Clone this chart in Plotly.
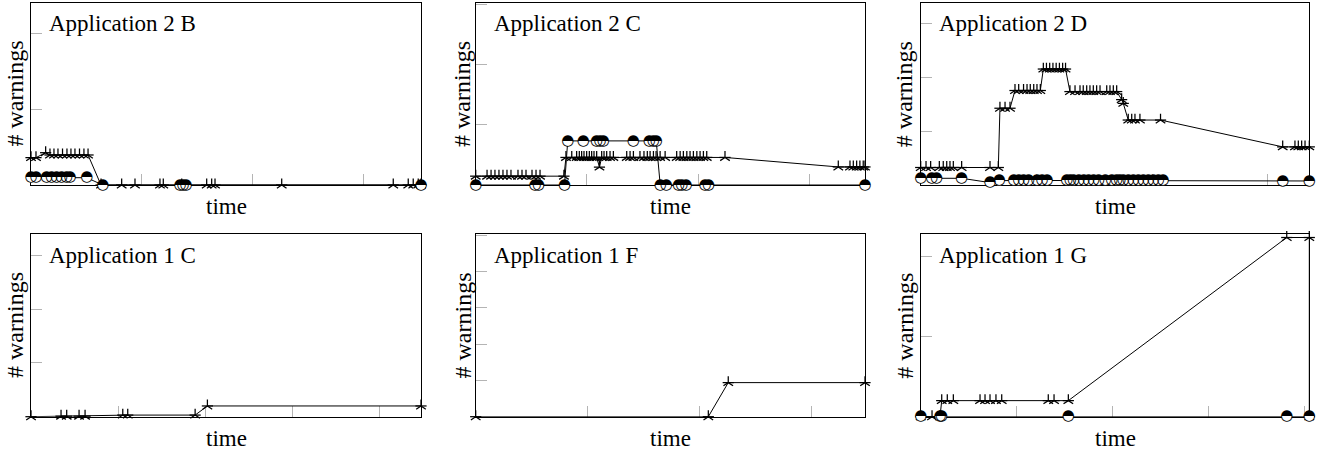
import plotly.graph_objects as go

W, H = 1328, 455

# ---------------- data ----------------
# Application 2 B
b_star_x = [0, 0.45, 1.32, 1.71, 2.07, 2.43, 2.84, 3.24, 3.60, 3.96, 4.37, 4.77, 5.14, 6.31, 8.17, 9.37,
            11.62, 11.92, 13.58, 15.83, 16.28, 16.58, 22.59, 32.64, 33.99, 34.44, 34.89, 35.14]
b_star_y = [3.6, 3.6, 4.25, 3.95, 3.95, 3.95, 3.95, 3.95, 3.95, 3.95, 3.95, 3.95, 3.95, 0, 0, 0,
            0, 0, 0, 0, 0, 0, 0, 0, 0, 0, 0, 0]
b_circ_x = [0, 0.45, 1.41, 1.86, 2.31, 2.76, 3.21, 3.51, 5.02, 6.46, 13.42, 13.69, 13.96, 35.14]
b_circ_y = [0.96, 0.96, 0.96, 0.96, 0.96, 0.96, 0.96, 0.96, 0.96, 0, 0, 0, 0, 0]

# Application 2 C
c_star_x = [0, 1.02, 1.38, 1.73, 2.09, 2.45, 2.81, 3.17, 3.80, 4.16, 4.52, 5.06, 5.42, 5.78, 7.93,
            8.11, 8.63, 9.07, 9.31, 9.52, 9.73, 9.97, 10.21, 10.42, 10.63, 10.87, 11.12, 11.32, 11.53,
            11.77, 12.07, 12.37, 13.57, 13.87, 14.17, 14.76, 15.12, 15.42, 15.67, 15.97, 16.21, 16.57,
            17.02, 18.06, 18.37, 18.66, 18.97, 19.26, 19.56, 19.87, 20.16, 20.46, 20.76, 22.40,
            32.58, 33.63, 33.93, 34.23, 34.52, 34.82, 34.98]
c_star_y = [1.47] * 15 + [4.58] * 11 + [2.97] + [4.58] * 27 + [3.0] * 7
c_circ_x = [0, 5.33, 5.65, 7.98, 8.27, 9.67, 10.87, 11.17, 11.47, 14.17, 15.61, 15.95, 16.22, 16.58,
            17.12, 18.22, 18.53, 18.91, 20.62, 20.92, 34.98]
c_circ_y = [0, 0, 0, 0, 7.33, 7.33, 7.33, 7.33, 7.33, 7.33, 7.33, 7.33, 7.33, 0,
            0, 0, 0, 0, 0, 0, 0]

# Application 2 D
d_star_x = [0, 0.46, 0.86, 1.61, 1.95, 2.25, 2.53, 2.82, 3.54, 5.99, 6.71,
            6.85, 7.29, 7.72,
            8.15, 8.47, 8.89, 9.19, 9.47, 9.77, 10.05, 10.34,
            10.60, 10.87, 11.15, 11.43, 11.71, 11.99, 12.27, 12.52,
            12.90, 13.34, 13.77, 14.05, 14.35, 14.63, 14.92, 15.21, 15.50, 16.08, 16.36, 16.65, 16.94,
            17.37, 17.51,
            17.94, 18.24, 18.52, 18.95, 20.73,
            31.29, 32.35, 32.64, 32.93, 33.22, 33.59]
d_star_y = ([3.26] * 11 + [14.3] * 3 + [17.6] * 8 + [21.6] * 8 + [17.4] * 13 + [15.9, 15.2]
            + [12.1] * 5 + [7.1] * 6)
d_circ_x = [0, 0.95, 1.38, 3.54, 5.99, 6.79, 8.04, 8.47, 8.90, 9.33, 10.05, 10.48, 10.92,
            12.64, 12.93, 13.22, 13.66, 14.09, 14.52, 14.95, 15.38, 15.95, 16.53, 16.94, 17.22,
            17.51, 17.94, 18.38, 18.81, 19.24, 19.67, 20.10, 20.54, 20.94, 31.29, 33.59]
d_circ_y = [1.25, 1.25, 1.25, 1.25, 0.45, 0.8] + [0.85] * 28 + [0.75, 0.75]

# Application 1 C
e_star_x = [0, 3.45, 4.10, 5.52, 6.21, 10.54, 11.11, 18.85, 20.26, 44.79]
e_star_y = [0, 0.1, 0.1, 0.1, 0.1, 0.3, 0.3, 0.3, 2.0, 2.0]

# Application 1 F
f_star_x = [0, 20.77, 22.55, 34.76]
f_star_y = [0, 0, 9.4, 9.4]

# Application 1 G
g_star_x = [0, 1.18, 2.01, 2.19, 2.77, 3.40, 6.18, 6.70, 7.22, 7.84, 8.44, 13.29, 13.89, 15.38,
            38.13, 40.48, 40.48]
g_star_y = [0, 0, 0, 2.0, 2.0, 2.0, 2.0, 2.0, 2.0, 2.0, 2.0, 2.0, 2.0, 2.0, 22.3, 22.3, 0]
g_circ_x = [0, 2.01, 2.17, 15.38, 38.13, 40.48]
g_circ_y = [0, 0, 0, 0, 0, 0]

titles = ["Application 2 B", "Application 2 C", "Application 2 D",
          "Application 1 C", "Application 1 F", "Application 1 G"]
x_max = [35.14, 34.98, 33.59, 44.79, 34.76, 40.48]
y_max = [23.95, 30.25, 33.9, 33.96, 50.3, 22.7]
tick_step = 10

panels = [
    (b_star_x, b_star_y, b_circ_x, b_circ_y),
    (c_star_x, c_star_y, c_circ_x, c_circ_y),
    (d_star_x, d_star_y, d_circ_x, d_circ_y),
    (e_star_x, e_star_y, None, None),
    (f_star_x, f_star_y, None, None),
    (g_star_x, g_star_y, g_circ_x, g_circ_y),
]

# ---------------- layout geometry (pixels in the page) ----------------
col_px = [(31, 421), (475.7, 865), (920.7, 1309.3)]
row_px = [(3, 185), (234.3, 416.7)]
ylab_px = [14.5, 462.0, 904.2]
time_y_px = [206.5, 438.5]
title_y_px = [23.5, 255.0]


def px(xp):
    return xp / W


def py(yp):
    return 1 - yp / H


FONT = "Liberation Serif"
fig = go.Figure()
annotations = []
layout = {}

for i, (sx, sy, cx, cy) in enumerate(panels):
    r, c = divmod(i, 3)
    n = i + 1
    xa = "x" if n == 1 else f"x{n}"
    ya = "y" if n == 1 else f"y{n}"
    # star series (5-armed star built from a "y" and a horizontal bar)
    fig.add_trace(go.Scatter(x=sx, y=sy, mode="lines+markers", xaxis=xa, yaxis=ya,
                             line=dict(color="black", width=1), cliponaxis=False,
                             marker=dict(symbol="y-up-open", size=8, color="black",
                                         line=dict(color="black", width=1.25)),
                             showlegend=False, hoverinfo="skip"))
    fig.add_trace(go.Scatter(x=sx, y=sy, mode="markers", xaxis=xa, yaxis=ya, cliponaxis=False,
                             marker=dict(symbol="line-ew-open", size=8, color="black",
                                         line=dict(color="black", width=1.25)),
                             showlegend=False, hoverinfo="skip"))
    if cx is not None:
        # half-filled circle series
        fig.add_trace(go.Scatter(x=cx, y=cy, mode="lines+markers", xaxis=xa, yaxis=ya,
                                 line=dict(color="black", width=1), cliponaxis=False,
                                 marker=dict(symbol="circle", size=10, color="white",
                                             line=dict(width=0)),
                                 showlegend=False, hoverinfo="skip"))
        fig.add_trace(go.Scatter(x=cx, y=cy, mode="text", xaxis=xa, yaxis=ya, cliponaxis=False,
                                 text=["\u25d3"] * len(cx), textposition="middle center",
                                 textfont=dict(family="DejaVu Sans", size=15, color="black"),
                                 showlegend=False, hoverinfo="skip"))

    axcommon = dict(showline=True, linecolor="black", linewidth=1, mirror=True,
                    ticks="inside", ticklen=11, tickcolor="#b4b4b4", tickwidth=1,
                    showticklabels=False, showgrid=False, zeroline=False,
                    tick0=0, dtick=tick_step, layer="below traces", fixedrange=True)
    layout["xaxis" if n == 1 else f"xaxis{n}"] = dict(
        domain=[px(col_px[c][0]), px(col_px[c][1])], range=[0, x_max[i]],
        anchor=ya, **axcommon)
    layout["yaxis" if n == 1 else f"yaxis{n}"] = dict(
        domain=[py(row_px[r][1]), py(row_px[r][0])], range=[0, y_max[i]],
        anchor=xa, **axcommon)

    annotations.append(dict(text=titles[i], xref="paper", yref="paper",
                            x=px(col_px[c][0] + 16), y=py(title_y_px[r]),
                            xanchor="left", yanchor="middle", showarrow=False,
                            font=dict(family=FONT, size=23, color="black")))
    annotations.append(dict(text="time", xref="paper", yref="paper",
                            x=px((col_px[c][0] + col_px[c][1]) / 2), y=py(time_y_px[r]),
                            xanchor="center", yanchor="middle", showarrow=False,
                            font=dict(family=FONT, size=23, color="black")))
    annotations.append(dict(text="# warnings", xref="paper", yref="paper",
                            x=px(ylab_px[c]), y=py((row_px[r][0] + row_px[r][1]) / 2),
                            xanchor="center", yanchor="middle", textangle=-90, showarrow=False,
                            font=dict(family=FONT, size=24, color="black")))

fig.update_layout(**layout)
fig.update_layout(width=W, height=H, margin=dict(l=0, r=0, t=0, b=0),
                  paper_bgcolor="white", plot_bgcolor="white",
                  annotations=annotations, showlegend=False)

fig.write_html("out.html", include_plotlyjs=True, config={"displayModeBar": False},
               post_script="document.body.style.margin='0';document.body.style.overflow='hidden';")
